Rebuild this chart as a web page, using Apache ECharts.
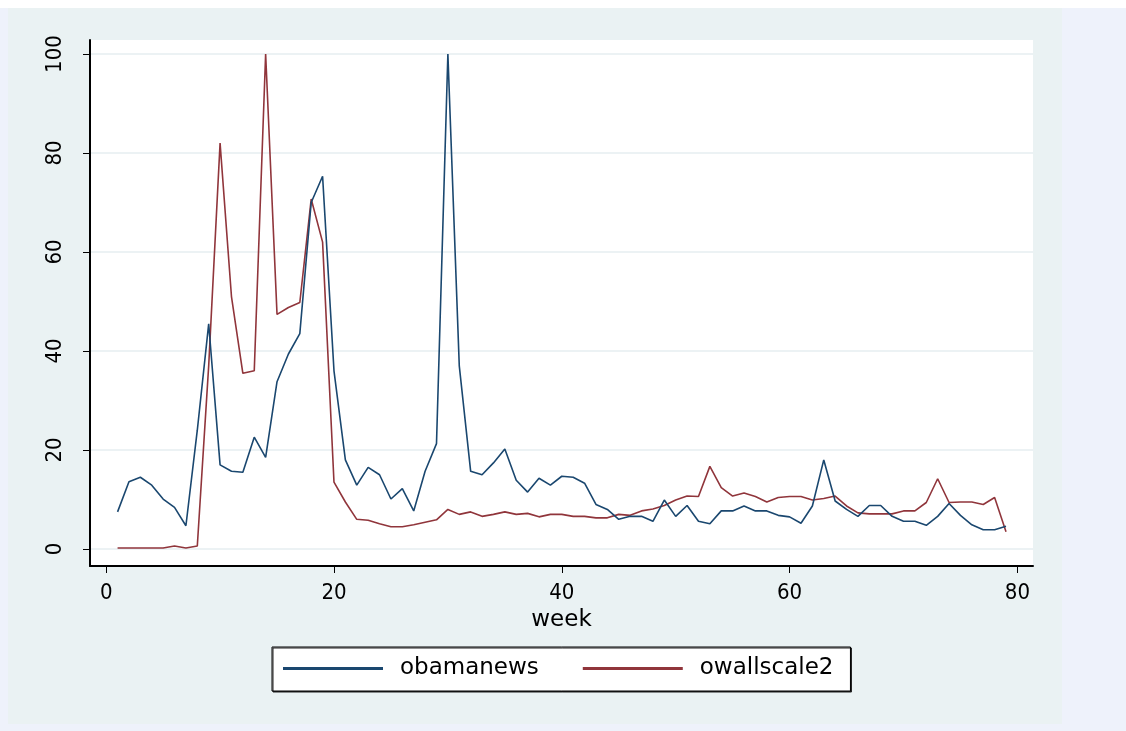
<!DOCTYPE html>
<html>
<head>
<meta charset="utf-8">
<script src="https://cdn.jsdelivr.net/npm/echarts@6/dist/echarts.min.js"></script>
<style>
  html, body { margin: 0; padding: 0; background: #EEF2FB; }
  #top { position: absolute; left: 0; top: 0; width: 1126px; height: 8px; background: #ffffff; }
  #panel { position: absolute; left: 8px; top: 8px; width: 1054px; height: 716px; background: #EAF2F3; }
  #chart { position: absolute; left: 0; top: 0; width: 1126px; height: 731px; }
</style>
</head>
<body>
<div id="top"></div>
<div id="panel"></div>
<div id="chart"></div>
<script>
const weeks = [1,2,3,4,5,6,7,8,9,10,11,12,13,14,15,16,17,18,19,20,
  21,22,23,24,25,26,27,28,29,30,31,32,33,34,35,36,37,38,39,40,
  41,42,43,44,45,46,47,48,49,50,51,52,53,54,55,56,57,58,59,60,
  61,62,63,64,65,66,67,68,69,70,71,72,73,74,75,76,77,78,79];

const obamanews = [7.5,13.6,14.5,12.9,10.1,8.4,4.7,24,45.5,17,
  15.7,15.5,22.6,18.5,33.8,39.4,43.5,70,75.3,36,
  18,12.9,16.5,15,10.1,12.2,7.7,15.7,21.3,100,
  37,15.7,15,17.4,20.2,13.9,11.5,14.3,12.9,14.7,
  14.5,13.3,9,8,6,6.6,6.6,5.6,9.9,6.6,
  8.8,5.6,5.1,7.7,7.7,8.7,7.7,7.7,6.8,6.5,
  5.2,8.7,18,9.7,8,6.6,8.8,8.8,6.6,5.6,
  5.6,4.8,6.6,9.2,6.8,4.9,3.9,3.9,4.6];

const owallscale2 = [0.2,0.2,0.2,0.2,0.2,0.6,0.2,0.6,37,82,
  51,35.5,36,100,47.4,48.8,49.8,70.7,62,13.5,
  9.5,6,5.8,5.1,4.5,4.5,4.9,5.4,5.9,8,
  7,7.5,6.6,7,7.5,7,7.2,6.5,7,7,
  6.6,6.6,6.3,6.3,7,6.8,7.7,8.1,8.8,9.9,
  10.7,10.6,16.7,12.4,10.7,11.3,10.6,9.5,10.4,10.6,
  10.6,9.9,10.2,10.7,8.7,7.3,7.1,7.1,7.1,7.7,
  7.7,9.4,14.2,9.4,9.5,9.5,9.0,10.4,3.5];

const xTicks = [0, 20, 40, 60, 80];
const yTicks = [0, 20, 40, 60, 80, 100];

const tickFont = "'DejaVu Sans Condensed', 'Liberation Sans', sans-serif";
const textFont = "'DejaVu Sans', sans-serif";

const chart = echarts.init(document.getElementById('chart'), null, { renderer: 'canvas' });

chart.setOption({
  backgroundColor: 'transparent',
  animation: false,
  grid: {
    left: 90, top: 40, width: 943, height: 526,
    show: true, backgroundColor: '#ffffff', borderWidth: 0,
    containLabel: false
  },
  legend: {
    left: 272, top: 647,
    orient: 'horizontal',
    icon: 'rect',
    itemWidth: 100, itemHeight: 3,
    itemGap: 44,
    padding: [10, 17, 11, 11],
    backgroundColor: '#ffffff',
    borderColor: '#000000', borderWidth: 1,
    shadowColor: '#222222', shadowOffsetX: 1, shadowOffsetY: 1, shadowBlur: 0,
    textStyle: { fontFamily: textFont, fontSize: 23, color: '#000', padding: [0, 0, 0, 12] },
    data: ['obamanews', 'owallscale2']
  },
  xAxis: {
    type: 'value',
    min: -1.42, max: 81.37,
    name: 'week', nameLocation: 'middle', nameGap: 40,
    nameTextStyle: { fontFamily: textFont, fontSize: 23, color: '#000' },
    axisLine: { show: true, onZero: false, lineStyle: { color: '#000', width: 2 } },
    axisTick: { show: true, length: 7, customValues: xTicks, lineStyle: { color: '#000', width: 1 } },
    axisLabel: { customValues: xTicks, margin: 16, fontFamily: tickFont, fontSize: 22, color: '#000' },
    splitLine: { show: false }
  },
  yAxis: {
    type: 'value',
    min: -3.43, max: 102.83,
    axisLine: { show: true, onZero: false, lineStyle: { color: '#000', width: 2 } },
    axisTick: { show: true, length: 7, customValues: yTicks, lineStyle: { color: '#000', width: 1 } },
    axisLabel: { customValues: yTicks, rotate: 90, margin: 24, fontFamily: tickFont, fontSize: 22, color: '#000' },
    splitLine: { show: true, lineStyle: { color: '#E6EEF1', width: 1.5 } }
  },
  series: [
    {
      name: 'obamanews', type: 'line',
      data: weeks.map((w, i) => [w, obamanews[i]]),
      showSymbol: false, symbol: 'none',
      itemStyle: { color: '#1a476f' },
      lineStyle: { color: '#1a476f', width: 1.6 },
      z: 3
    },
    {
      name: 'owallscale2', type: 'line',
      data: weeks.map((w, i) => [w, owallscale2[i]]),
      showSymbol: false, symbol: 'none',
      itemStyle: { color: '#90353b' },
      lineStyle: { color: '#90353b', width: 1.6 },
      z: 2
    }
  ]
});
</script>
</body>
</html>
